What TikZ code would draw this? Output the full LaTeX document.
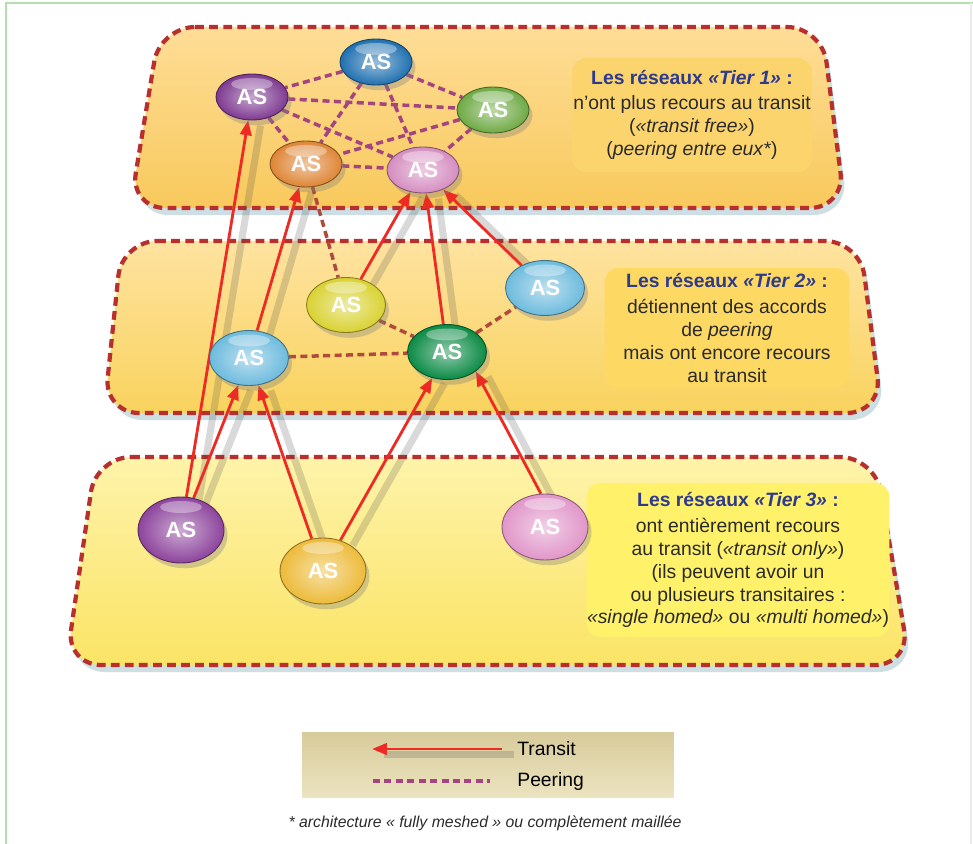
\documentclass[tikz,border=0pt]{standalone}
\usepackage{fontspec}
\setmainfont{Liberation Sans}
\usetikzlibrary{arrows.meta,shapes.geometric,shadows}

\definecolor{cadrevert}{HTML}{B5DDB0}
\definecolor{tierrouge}{HTML}{B8302E}
\definecolor{ombre}{HTML}{B9D2D8}
\definecolor{c1haut}{HTML}{FEDD97}
\definecolor{c1bas}{HTML}{F8C95C}
\definecolor{c2haut}{HTML}{FEE3A0}
\definecolor{c2bas}{HTML}{F9D35E}
\definecolor{c3haut}{HTML}{FEF3AA}
\definecolor{c3bas}{HTML}{FBE466}
\definecolor{boite1}{HTML}{FBD46E}
\definecolor{boite2}{HTML}{FDD963}
\definecolor{boite3}{HTML}{FFF16A}
\definecolor{leghaut}{HTML}{D8CB9C}
\definecolor{legbas}{HTML}{ECE4C0}
\definecolor{titre}{HTML}{2E3A8C}
\definecolor{texte}{HTML}{2A2A2A}
\definecolor{fleche}{HTML}{EE2A24}
\definecolor{peer1}{HTML}{A5457F}
\definecolor{peer2}{HTML}{B04A3C}
\definecolor{asbleu}{HTML}{1F70B0}
\definecolor{asviolet}{HTML}{7E3A91}
\definecolor{asvert}{HTML}{6FAA45}
\definecolor{asorange}{HTML}{DE8535}
\definecolor{asrose}{HTML}{D58DC0}
\definecolor{asjaune}{HTML}{D9D232}
\definecolor{asciel}{HTML}{6DBBDD}
\definecolor{asvertfonce}{HTML}{0B8A45}
\definecolor{asvioletbas}{HTML}{8D449C}
\definecolor{asor}{HTML}{EDBB3A}
\definecolor{asrosebas}{HTML}{E196C9}

\pgfdeclarelayer{back}
\pgfdeclarelayer{lines}
\pgfsetlayers{back,lines,main}

\begin{document}
\begin{tikzpicture}[x=0.02cm, y=-0.02cm,
  couche/.style={draw=tierrouge, line width=2.4pt, dash pattern=on 5pt off 3pt,
    rounded corners=20pt,
    drop shadow={shadow xshift=2pt, shadow yshift=-4pt, fill=ombre, opacity=0.7}},
  boite/.style={rounded corners=8pt, align=center, text=texte, inner sep=0pt,
    font=\fontsize{11}{13}\selectfont},
  asnode/.style={ellipse, draw=#1!60!black, line width=0.5pt, inner sep=0pt,
    inner color=#1!45!white, outer color=#1, text=white,
    font=\bfseries\fontsize{12.5}{12.5}\selectfont,
    drop shadow={shadow xshift=2pt, shadow yshift=-3pt, opacity=0.35},
    path picture={\fill[white, opacity=0.35] ([yshift=-0.2cm]path picture bounding box.north)
      ellipse [x radius=0.42cm, y radius=0.12cm];}},
  astop/.style={minimum width=1.44cm, minimum height=0.92cm},
  asmid/.style={minimum width=1.58cm, minimum height=1.1cm},
  asbas/.style={minimum width=1.72cm, minimum height=1.32cm},
  transit/.style={draw=fleche, line width=1.6pt, -{Triangle[length=8.5pt,width=6.5pt]},
    preaction={-, draw=black!75, line width=4pt, opacity=0.2,
      transform canvas={xshift=7pt, yshift=-3pt}}},
  peering/.style={draw=#1, line width=2pt, dash pattern=on 4pt off 2.5pt},
  legtexte/.style={anchor=west, inner sep=0pt, font=\fontsize{11}{12}\selectfont}
]
\useasboundingbox (0,0) rectangle (973,844);

% Cadre
\draw[cadrevert, line width=1.5pt] (6,844) -- (6,3) -- (973,3);
\draw[black!8, line width=0.8pt] (971,3) -- (971,844);

\begin{pgfonlayer}{back}
% Couches
\path[couche, top color=c1haut, bottom color=c1bas]
  (160,27) -- (822,27) -- (845,208) -- (130,208) -- cycle;
\path[couche, top color=c2haut, bottom color=c2bas]
  (122,241) -- (860,241) -- (882,413) -- (104,413) -- cycle;
\path[couche, top color=c3haut, bottom color=c3bas]
  (96,457) -- (875,457) -- (910,665) -- (66,665) -- cycle;

% Textes
\node[boite, fill=boite1, minimum width=4.8cm, minimum height=2.28cm] (txt1) at (692,115)
  {\textcolor{titre}{\bfseries Les réseaux \textit{«Tier 1»} :}\\[1pt]
   n'ont plus recours au transit\\
   (\textit{«transit free»})\\
   (\textit{peering entre eux*})};
\node[boite, fill=boite2, minimum width=4.9cm, minimum height=2.4cm] (txt2) at (727,328)
  {\textcolor{titre}{\bfseries Les réseaux \textit{«Tier 2»} :}\\[2pt]
   détiennent des accords\\
   de \textit{peering}\\
   mais ont encore recours\\
   au transit};
\node[boite, fill=boite3, minimum width=6.06cm, minimum height=3.08cm] (txt3) at (738,560)
  {\textcolor{titre}{\bfseries Les réseaux \textit{«Tier 3»} :}\\[2pt]
   ont entièrement recours\\
   au transit (\textit{«transit only»})\\
   (ils peuvent avoir un\\
   ou plusieurs transitaires :\\
   \textit{«single homed»} ou \textit{«multi homed»})};
\end{pgfonlayer}

% Tier 1
\node[asnode=asbleu, astop] (t1) at (376,62) {AS};
\node[asnode=asviolet, astop] (t2) at (252,97) {AS};
\node[asnode=asvert, astop] (t3) at (493,110) {AS};
\node[asnode=asorange, astop] (t4) at (306,164) {AS};
\node[asnode=asrose, astop] (t5) at (423,170) {AS};

% Tier 2
\node[asnode=asjaune, asmid] (m1) at (346,305) {AS};
\node[asnode=asciel, asmid] (m2) at (249,358) {AS};
\node[asnode=asvertfonce, asmid] (m3) at (447,352) {AS};
\node[asnode=asciel, asmid] (m4) at (545,288) {AS};

% Tier 3
\node[asnode=asvioletbas, asbas] (b1) at (181,530) {AS};
\node[asnode=asor, asbas] (b2) at (323,571) {AS};
\node[asnode=asrosebas, asbas] (b3) at (545,527) {AS};

\begin{pgfonlayer}{lines}
% Peering
\foreach \a/\b in {t1/t2,t1/t3,t1/t4,t1/t5,t2/t3,t2/t4,t2/t5,t3/t4,t3/t5,t4/t5}
  \draw[peering=peer1] (\a) -- (\b);
\foreach \a/\b in {t4/m1,m1/m3,m2/m3,m3/m4}
  \draw[peering=peer2] (\a) -- (\b);

% Transit
\draw[transit] (b1) -- (t2);
\draw[transit] (b1) -- (m2);
\draw[transit] (b2) -- (m2);
\draw[transit] (b2) -- (m3);
\draw[transit] (b3.97) -- (m3.-34);
\draw[transit] (m2) -- (t4);
\draw[transit] (m1) -- (t5);
\draw[transit] (m3) -- (t5);
\draw[transit] (m4) -- (t5);
\end{pgfonlayer}

% Legende
\node[top color=leghaut, bottom color=legbas, minimum width=7.44cm, minimum height=1.3cm,
  inner sep=0pt] (leg) at (488,765) {};
\coordinate (lt1) at (502,749);
\coordinate (lt2) at (372,749);
\draw[transit] (lt1) -- (lt2);
\coordinate (lp1) at (373,781);
\coordinate (lp2) at (490,781);
\draw[peering=peer1] (lp1) -- (lp2);
\node[legtexte] (ltr) at (517,749) {Transit};
\node[legtexte] (lpe) at (517,781) {Peering};

% Note
\node[font=\itshape\fontsize{9}{11}\selectfont, text=texte] (note) at (485,823)
  {* architecture « fully meshed » ou complètement maillée};

\end{tikzpicture}
\end{document}
